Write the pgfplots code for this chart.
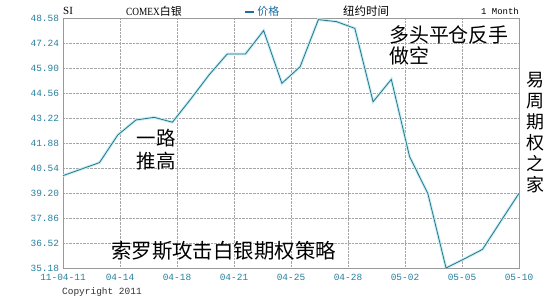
\documentclass[border=0pt]{standalone}
\usepackage{fontspec}
\setmainfont{Liberation Serif}
\newfontfamily\mono{Liberation Mono}
\newfontfamily\cjk{Noto Sans CJK SC}
\usepackage{pgfplots}
\usepackage{pgfplotstable}
\pgfplotsset{compat=1.18}
\definecolor{linec}{RGB}{40,118,138}
\definecolor{halo}{RGB}{200,238,245}
\definecolor{ticklab}{RGB}{40,128,158}
\definecolor{legc}{RGB}{30,110,160}
\pgfplotstableread{
x y
0 40.14
1 40.49
2 40.84
3 42.32
4 43.13
5 43.27
6 43.01
7 44.25
8 45.54
9 46.67
10 46.67
11 47.93
12 45.10
13 45.99
14 48.52
15 48.41
16 48.05
17 44.11
18 45.31
19 41.16
20 39.19
21 35.18
22 35.67
23 36.18
24 37.69
25 39.19
}\silver
\begin{document}
\begin{tikzpicture}
\useasboundingbox (0bp,0bp) rectangle (545bp,300bp);
\fill[white] (0bp,0bp) rectangle (545bp,300bp);
\begin{axis}[
  at={(63bp,32bp)}, anchor=south west,
  scale only axis, width=456bp, height=249.5bp,
  xmin=0, xmax=25, ymin=35.18, ymax=48.58,
  xtick={0,3.125,6.25,9.375,12.5,15.625,18.75,21.875,25},
  xticklabels={11-04-11,04-14,04-18,04-21,04-25,04-28,05-02,05-05,05-10},
  ytick={35.18,36.52,37.86,39.20,40.54,41.88,43.22,44.56,45.90,47.24,48.58},
  yticklabels={35.18,36.52,37.86,39.20,40.54,41.88,43.22,44.56,45.90,47.24,48.58},
  grid=major, grid style={gray!70, densely dotted, line width=0.5pt},
  major tick length=0pt,
  axis line style={gray!80, line width=0.8pt},
  yticklabel style={ticklab, font=\mono\fontsize{9.5}{10}\selectfont, xshift=-0.5bp},
  xticklabel style={ticklab, font=\mono\fontsize{9.5}{10}\selectfont, yshift=-2.5bp},
  legend style={at={(rel axis cs:0.397,1.026)}, anchor=west, draw=none, fill=none,
    font=\cjk\fontsize{11}{12}\selectfont\color{legc}, inner sep=0pt,
    legend cell align=left},
  legend image code/.code={\draw[legc, line width=2.2pt] (0bp,0bp) -- (9bp,0bp);},
]
\addplot[halo, line width=2.8pt, forget plot] table[x=x,y=y] {\silver};
\addplot[linec, line width=0.8pt] table[x=x,y=y] {\silver};
\addlegendentry{价格}
\end{axis}
% header
\node[anchor=west, inner sep=0pt, font=\fontsize{11}{12}\selectfont] at (63bp,289bp) {SI};
\node[anchor=west, inner sep=0pt, font=\fontsize{11}{12}\selectfont] at (126bp,289bp) {\addfontfeature{FakeStretch=0.85}COMEX{\cjk 白银}};
\node[anchor=west, inner sep=0pt, font=\cjk\fontsize{11.5}{12}\selectfont] at (343bp,289bp) {纽约时间};
\node[anchor=east, inner sep=0pt, font=\mono\fontsize{9}{10}\selectfont] at (519bp,289bp) {1 Month};
% footer
\node[anchor=west, inner sep=0pt, font=\mono\fontsize{9.5}{10}\selectfont, text=black!80] at (62bp,8bp) {Copyright 2011};
% annotations
\node[anchor=west, inner sep=0pt, align=left, font=\cjk\fontsize{20}{21}\selectfont] at (389bp,255bp) {多头平仓反手\\做空};
\node[anchor=center, inner sep=0pt, align=center, font=\cjk\fontsize{19.5}{23}\selectfont] at (156bp,150bp) {一路\\推高};
\node[anchor=center, inner sep=0pt, align=center, font=\cjk\fontsize{18}{21}\selectfont] at (535bp,167.5bp) {易\\周\\期\\权\\之\\家};
\node[anchor=west, inner sep=0pt, font=\cjk\fontsize{20.5}{22}\selectfont] at (111bp,49bp) {索罗斯攻击白银期权策略};
\end{tikzpicture}
\end{document}
